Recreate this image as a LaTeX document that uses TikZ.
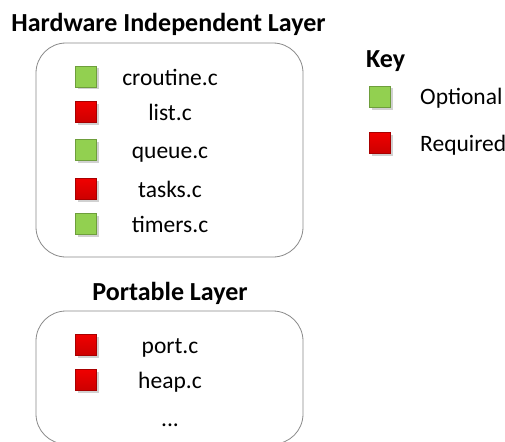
\documentclass[tikz,border=0pt]{standalone}
\usepackage{fontspec}
\setmainfont{Carlito}
\definecolor{optgreen}{HTML}{92D050}
\definecolor{optgreenB}{HTML}{6E9E3C}
\definecolor{reqred}{HTML}{F00000}
\definecolor{reqredB}{HTML}{A80000}
\definecolor{boxline}{HTML}{8A8A8A}
\tikzset{
  sq/.style={minimum size=21pt, inner sep=0pt, draw, line width=0.6pt},
  optsq/.style={sq, fill=optgreen, draw=optgreenB},
  reqsq/.style={sq, top color=reqred, bottom color=reqred!85!black, draw=reqredB},
  shad/.style={fill=black!18, minimum size=21pt, inner sep=0pt},
  file/.style={anchor=base, font=\fontsize{23.5}{27}\selectfont, inner sep=0pt},
  title/.style={anchor=base, font=\fontsize{26}{30}\selectfont\bfseries, inner sep=0pt},
  keytxt/.style={anchor=base west, font=\fontsize{23.5}{27}\selectfont, inner sep=0pt},
  layer/.style={draw=boxline, line width=0.8pt, rounded corners=30pt}
}
\begin{document}
\begin{tikzpicture}[x=1pt,y=-1pt]
\useasboundingbox (0,0) rectangle (505,441);
\clip (0,0) rectangle (505,441);
\fill[white] (0,0) rectangle (505,441);
% titles
\node[title] (t1) at (168.5,32) {Hardware Independent Layer};
\node[title] (t2) at (170,300) {Portable Layer};
\node[title, anchor=base west] (tk) at (366,68) {Key};
% layer boxes
\draw[layer] (36,43) rectangle (303,257);
\draw[layer] (36,311) rectangle (303,444);
% shadows
\foreach \y in {77,112,150,189,224,345,380} {\node[shad] at (88,\y+2) {};}
\foreach \y in {97,143} {\node[shad] at (382,\y+2) {};}
% hardware independent layer
\node[optsq] (s1) at (86,77) {};
\node[reqsq] (s2) at (86,112) {};
\node[optsq] (s3) at (86,150) {};
\node[reqsq] (s4) at (86,189) {};
\node[optsq] (s5) at (86,224) {};
\node[file] (f1) at (170,85) {croutine.c};
\node[file] (f2) at (170,120) {list.c};
\node[file] (f3) at (170,158) {queue.c};
\node[file] (f4) at (170,197) {tasks.c};
\node[file] (f5) at (170,232) {timers.c};
% portable layer
\node[reqsq] (p1) at (86,345) {};
\node[reqsq] (p2) at (86,380) {};
\node[file] (g1) at (170,353) {port.c};
\node[file] (g2) at (170,388) {heap.c};
\node[file] (g3) at (170,426) {...};
% key
\node[optsq] (k1) at (380,97) {};
\node[reqsq] (k2) at (380,143) {};
\node[keytxt] (kt1) at (420,105) {Optional};
\node[keytxt] (kt2) at (420,151) {Required};
\end{tikzpicture}
\end{document}
